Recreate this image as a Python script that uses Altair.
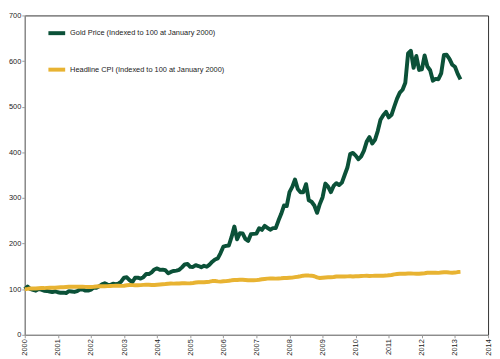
import altair as alt
import pandas as pd

# Gold price index (Jan 2000 = 100), monthly Jan 2000 - Mar 2013
gold = [
    100.0, 105.7, 100.6, 98.4, 96.7, 100.4, 98.9, 96.5, 96.2, 94.9, 93.5, 95.4,
    93.3, 92.0, 92.4, 91.5, 95.7, 94.9, 94.0, 95.7, 99.6, 99.5, 97.0, 96.9,
    99.0, 103.8, 103.3, 106.4, 110.5, 112.9, 110.1, 109.0, 112.2, 111.2, 112.1, 116.9,
    125.4, 126.1, 119.7, 115.3, 125.0, 125.3, 123.3, 126.4, 133.1, 133.1, 137.0, 143.2,
    145.5, 142.4, 142.9, 141.6, 134.8, 137.9, 139.9, 140.7, 142.4, 147.8, 154.4, 155.3,
    149.0, 148.8, 152.6, 150.7, 148.2, 151.3, 149.2, 153.9, 160.2, 165.1, 167.5, 179.2,
    193.2, 195.0, 195.7, 214.6, 237.3, 209.5, 222.7, 222.3, 210.2, 205.8, 220.6, 221.3,
    221.8, 233.6, 230.1, 238.7, 234.5, 230.3, 233.8, 233.8, 250.4, 265.1, 283.3, 282.2,
    312.6, 324.1, 340.3, 319.6, 312.3, 312.5, 330.2, 294.8, 291.6, 283.4, 267.4, 286.8,
    301.7, 331.4, 324.8, 312.8, 326.3, 332.3, 328.2, 333.6, 350.2, 366.6, 396.0, 398.7,
    392.8, 384.9, 391.2, 403.6, 423.5, 433.2, 419.2, 427.2, 446.6, 471.5, 481.3, 488.6,
    476.6, 482.3, 500.4, 517.8, 530.7, 537.1, 552.6, 616.9, 622.6, 585.1, 611.0, 580.5,
    581.9, 612.3, 588.1, 579.8, 557.1, 561.0, 560.2, 572.8, 613.1, 613.7, 604.9, 592.0,
    587.5, 571.9, 559.8,
]

# Headline CPI index (Jan 2000 = 100)
cpi = [
    100.0, 100.6, 101.4, 101.5, 101.6, 102.1, 102.4, 102.4, 102.9, 103.1, 103.1, 103.1,
    103.7, 104.1, 104.4, 104.8, 105.3, 105.5, 105.2, 105.2, 105.6, 105.3, 105.1, 104.7,
    104.9, 105.3, 105.9, 106.5, 106.5, 106.6, 106.7, 107.0, 107.2, 107.4, 107.4, 107.2,
    107.6, 108.5, 109.1, 108.9, 108.7, 108.8, 108.9, 109.4, 109.7, 109.6, 109.3, 109.2,
    109.7, 110.3, 111.0, 111.4, 112.0, 112.4, 112.2, 112.3, 112.5, 113.1, 113.2, 112.7,
    113.0, 113.6, 114.5, 115.3, 115.2, 115.2, 115.8, 116.4, 117.8, 118.0, 117.1, 116.6,
    117.5, 117.7, 118.4, 119.4, 120.0, 120.2, 120.6, 120.8, 120.2, 119.5, 119.4, 119.5,
    119.9, 120.6, 121.7, 122.4, 123.2, 123.4, 123.4, 123.2, 123.5, 123.8, 124.5, 124.4,
    125.0, 125.4, 126.5, 127.3, 128.3, 129.6, 130.3, 129.8, 129.6, 128.3, 125.8, 124.5,
    125.1, 125.7, 126.0, 126.3, 126.7, 127.8, 127.6, 127.9, 127.9, 128.1, 128.2, 127.9,
    128.4, 128.4, 128.9, 129.2, 129.3, 129.1, 129.2, 129.3, 129.4, 129.6, 129.6, 129.8,
    130.5, 131.1, 132.4, 133.2, 133.9, 133.7, 133.8, 134.2, 134.4, 134.1, 134.0, 133.7,
    134.3, 134.9, 135.9, 136.3, 136.1, 135.9, 135.7, 136.5, 137.1, 137.0, 136.4, 136.0,
    136.4, 137.5, 137.9,
]

series_names = [
    "Gold Price (Indexed to 100 at January 2000)",
    "Headline CPI (Indexed to 100 at January 2000)",
]
series_colors = ["#0b5138", "#e8b332"]
year_ticks = list(range(2000, 2015))
y_ticks = [0, 100, 200, 300, 400, 500, 600, 700]

start_year = 2000
t = [start_year + i / 12 for i in range(len(gold))]

df_gold = pd.DataFrame({"t": t, "value": gold, "series": series_names[0]})
df_cpi = pd.DataFrame({"t": t, "value": cpi, "series": series_names[1]})

FONT = "Liberation Sans"

color = alt.Color(
    "series:N",
    scale=alt.Scale(domain=series_names, range=series_colors),
    legend=alt.Legend(
        orient="none", legendX=22, legendY=7.5, title=None,
        symbolType="stroke", symbolSize=289, symbolStrokeWidth=4,
        rowPadding=18, labelFontSize=7.5, labelOffset=3, padding=0,
        labelFont=FONT, labelColor="#222222", labelLimit=400,
    ),
)

x = alt.X(
    "t:Q",
    scale=alt.Scale(domain=[2000, 2014], nice=False, zero=False),
    axis=alt.Axis(
        values=year_ticks, format="d", title=None, labelAngle=270,
        labelAlign="right", labelBaseline="middle", labelPadding=1,
        tickSize=3, grid=False, labelFontSize=7.5, labelFont=FONT,
        labelColor="#222222", domainColor="#999999", tickColor="#999999",
        labelOverlap=False,
    ),
)
y = alt.Y(
    "value:Q",
    scale=alt.Scale(domain=[0, 700], nice=False),
    axis=alt.Axis(
        values=y_ticks, title=None, tickSize=3, grid=False, labelPadding=1,
        labelFontSize=7.5, labelFont=FONT, labelColor="#222222",
        domainColor="#999999", tickColor="#999999",
    ),
)

gold_line = alt.Chart(df_gold).mark_line(strokeWidth=4, strokeJoin="round").encode(x=x, y=y, color=color)
cpi_line = alt.Chart(df_cpi).mark_line(strokeWidth=4, strokeJoin="round").encode(x=x, y=y, color=color)

chart = (
    alt.layer(gold_line, cpi_line)
    .properties(
        width=470, height=324,
        padding={"left": 17, "top": 5, "right": 4, "bottom": 22},
        autosize=alt.AutoSizeParams(type="none"),
        background="white",
    )
    .configure_view(stroke="#333333", strokeWidth=1)
)

chart.save("out.html", embed_options={"renderer": "svg", "actions": False})
